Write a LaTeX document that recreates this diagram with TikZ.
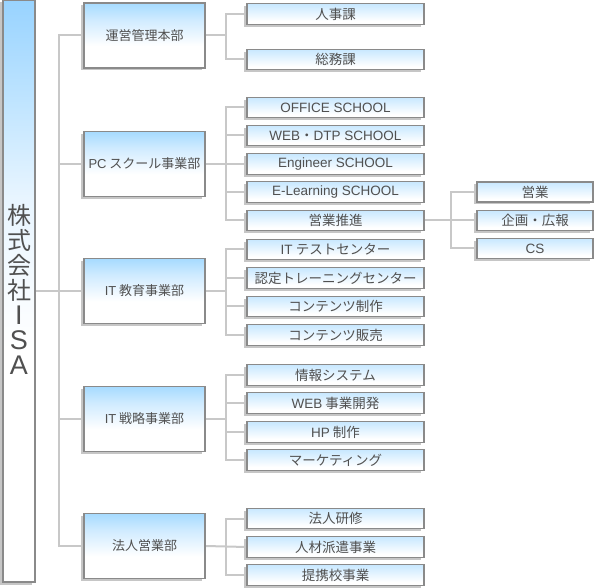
\documentclass[tikz,border=0pt]{standalone}
\usepackage{fontspec}
\setmainfont{Noto Sans CJK JP}
\newfontfamily\lat{Liberation Sans}
\usetikzlibrary{shadows,backgrounds}
\definecolor{txt}{HTML}{505050}
\definecolor{ln}{HTML}{C8C8C8}
\definecolor{bd}{HTML}{8A8A8A}
\definecolor{sh}{HTML}{C6C6C6}
\definecolor{bluea}{HTML}{98D3FF}
\definecolor{blueam}{HTML}{BCE3FF}
\definecolor{blueal}{HTML}{E8F5FF}
\definecolor{blueb}{HTML}{A6DBFF}
\definecolor{bluebm}{HTML}{D0EBFF}
\definecolor{bluec}{HTML}{C8E8FF}
\pgfdeclareverticalshading{mainsh}{100bp}{color(0bp)=(white); color(25bp)=(white); color(45bp)=(white); color(58bp)=(blueal); color(67bp)=(blueam); color(75bp)=(bluea); color(100bp)=(bluea)}
\pgfdeclareverticalshading{lvonesh}{100bp}{color(0bp)=(white); color(25bp)=(white); color(42bp)=(white); color(62bp)=(bluebm); color(75bp)=(blueb); color(100bp)=(blueb)}
\pgfdeclareverticalshading{lvtwosh}{100bp}{color(0bp)=(white); color(25bp)=(white); color(33bp)=(white); color(75bp)=(bluec); color(100bp)=(bluec)}
\newcommand\isalat[1]{{\lat\fontsize{27}{25}\selectfont #1}}
\tikzset{
  boxbase/.style={draw=bd, line width=1.2pt, inner sep=0pt, text=txt,
    drop shadow={shadow xshift=-3.5pt, shadow yshift=-2.5pt, fill=sh, opacity=1}},
  mainbox/.style={boxbase, shading=mainsh, minimum width=32pt, minimum height=582pt},
  lvone/.style={boxbase, shading=lvonesh, minimum width=121pt, minimum height=65pt, font=\fontsize{13}{15}\selectfont},
  lvtwo/.style={boxbase, shading=lvtwosh, minimum width=177pt, minimum height=20.5pt, font=\fontsize{13.5}{15}\selectfont},
  lvthree/.style={boxbase, shading=lvtwosh, minimum width=116pt, minimum height=20pt, font=\fontsize{13.5}{15}\selectfont},
  conn/.style={draw=ln, line width=2pt},
  isalabel/.style={text=txt, align=center, inner sep=0pt, font=\fontsize{24}{25}\selectfont}
}
\begin{document}
\begin{tikzpicture}[x=1pt,y=1pt]
\useasboundingbox (0,0) rectangle (594,587);
% main
\node[mainbox] (isa) at (19,296) {};
\node[isalabel] (isat) at (19,298) {株\\式\\会\\社\\\isalat{I}\\\isalat{S}\\\isalat{A}};
% level 1
\node[lvone] (b1) at (144.5,551.5) {運営管理本部};
\node[lvone] (b2) at (144.5,423) {{\lat PC} スクール事業部};
\node[lvone] (b3) at (144.5,296) {{\lat IT} 教育事業部};
\node[lvone] (b4) at (144.5,168) {{\lat IT} 戦略事業部};
\node[lvone] (b5) at (144.5,41) {法人営業部};
% level 2
\node[lvtwo] (a1) at (335.5,573) {人事課};
\node[lvtwo] (a2) at (335.5,527.5) {総務課};
\node[lvtwo] (p1) at (335.5,479.5) {\lat OFFICE SCHOOL};
\node[lvtwo] (p2) at (335.5,451.5) {{\lat WEB}・{\lat DTP SCHOOL}};
\node[lvtwo] (p3) at (335.5,423) {\lat Engineer SCHOOL};
\node[lvtwo] (p4) at (335.5,395) {\lat E-Learning SCHOOL};
\node[lvtwo] (p5) at (335.5,366.5) {営業推進};
\node[lvtwo] (e1) at (335.5,337.5) {{\lat IT} テストセンター};
\node[lvtwo] (e2) at (335.5,309) {認定トレーニングセンター};
\node[lvtwo] (e3) at (335.5,280.5) {コンテンツ制作};
\node[lvtwo] (e4) at (335.5,252) {コンテンツ販売};
\node[lvtwo] (s1) at (335.5,212) {情報システム};
\node[lvtwo] (s2) at (335.5,184) {{\lat WEB} 事業開発};
\node[lvtwo] (s3) at (335.5,155) {{\lat HP} 制作};
\node[lvtwo] (s4) at (335.5,127) {マーケティング};
\node[lvtwo] (h1) at (335.5,68.5) {法人研修};
\node[lvtwo] (h2) at (335.5,40) {人材派遣事業};
\node[lvtwo] (h3) at (335.5,12) {提携校事業};
% level 3
\node[lvthree] (q1) at (535,395) {営業};
\node[lvthree] (q2) at (535,366.5) {企画・広報};
\node[lvthree] (q3) at (535,338.5) {\lat CS};
% connectors
\coordinate (tr) at (59,0);
\coordinate (bk) at (226,0);
\coordinate (bq) at (451,0);
\begin{scope}[on background layer]
\draw[conn] (b1.west) -| (tr |- b5.west) -- (b5.west);
\draw[conn] (b2.west) -- (tr |- b2.west);
\draw[conn] (b4.west) -- (tr |- b4.west);
\draw[conn] (isa.east) -- (b3.west);
% group 1
\draw[conn] (a1.west) -| (bk |- a2.west) -- (a2.west);
\draw[conn] (b1.east) -- (bk |- b1.east);
% group 2
\draw[conn] (p1.west) -| (bk |- p5.west) -- (p5.west);
\draw[conn] (p2.west) -- (bk |- p2.west);
\draw[conn] (b2.east) -- (p3.west);
\draw[conn] (p4.west) -- (bk |- p4.west);
% group 3
\draw[conn] (e1.west) -| (bk |- e4.west) -- (e4.west);
\draw[conn] (e2.west) -- (bk |- e2.west);
\draw[conn] (e3.west) -- (bk |- e3.west);
\draw[conn] (b3.east) -- (bk |- b3.east);
% group 4
\draw[conn] (s1.west) -| (bk |- s4.west) -- (s4.west);
\draw[conn] (s2.west) -- (bk |- s2.west);
\draw[conn] (s3.west) -- (bk |- s3.west);
\draw[conn] (b4.east) -- (bk |- b4.east);
% group 5
\draw[conn] (h1.west) -| (bk |- h3.west) -- (h3.west);
\draw[conn] (b5.east) -- (h2.west);
% level 3 group
\draw[conn] (q1.west) -| (bq |- q3.west) -- (q3.west);
\draw[conn] (p5.east) -- (q2.west);
\end{scope}
\end{tikzpicture}
\end{document}
